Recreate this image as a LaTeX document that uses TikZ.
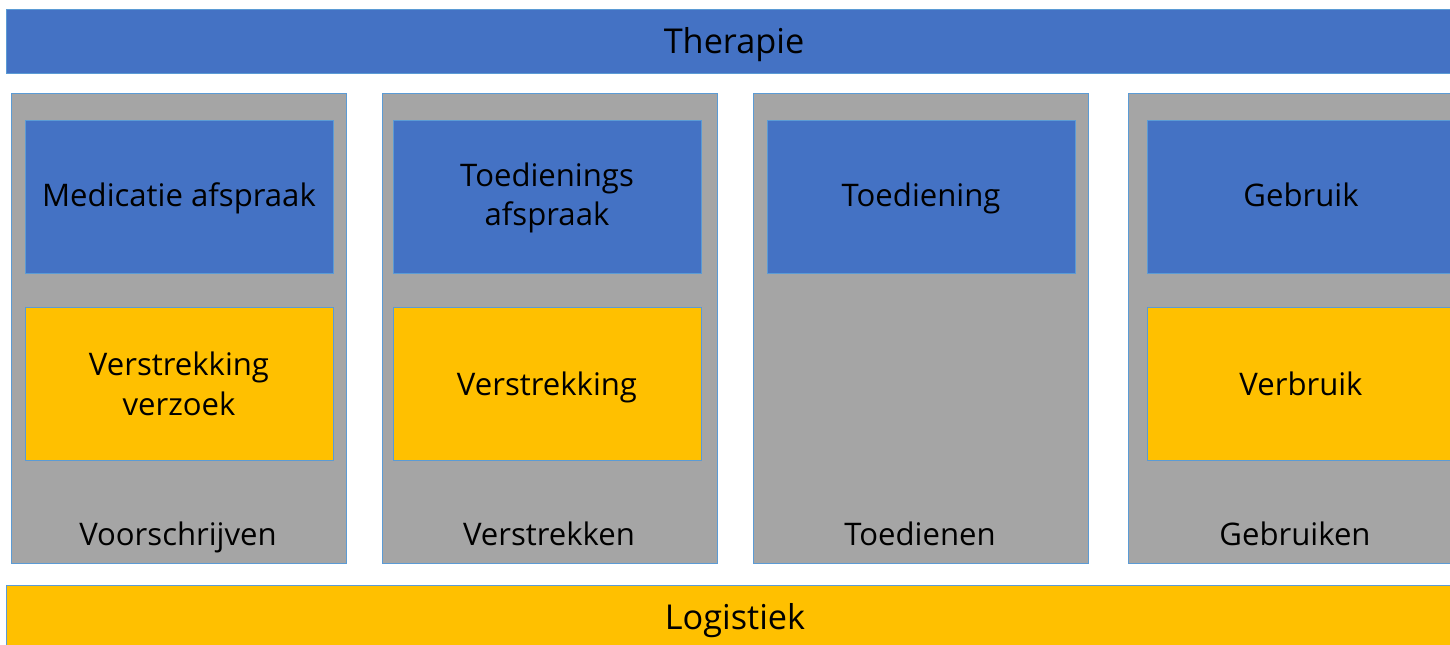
\documentclass[tikz,border=0pt]{standalone}
\usepackage{fontspec}
\setmainfont{Open Sans}
\definecolor{therapieblauw}{HTML}{4472C4}
\definecolor{stapgrijs}{HTML}{A5A5A5}
\definecolor{logistiekgeel}{HTML}{FFC000}
\definecolor{randblauw}{HTML}{5B9BD5}

\begin{document}
\begin{tikzpicture}[x=0.2mm, y=-0.2mm, blok/.style = {draw=randblauw, line width=0.5pt}, tekst/.style = {font=\fontsize{17.7}{22.4}\selectfont, align=center, text=black, inner sep=0pt, anchor=base}, laag/.style = {tekst, font=\fontsize{19.5}{24}\selectfont}]

    \useasboundingbox (0,0) rectangle (1450,645);
    \clip (0,0) rectangle (1450,645);

    % lagen
    \draw[blok, fill=therapieblauw] (6,9.5) rectangle (1464,73);
    \node[laag] (therapie) at (734,54) {Therapie};
    \draw[blok, fill=logistiekgeel] (6,585) rectangle (1464,655);
    \node[laag] (logistiek) at (735,629) {Logistiek};

    % voorschrijven
    \draw[blok, fill=stapgrijs] (11,93) rectangle (346,563);
    \draw[blok, fill=therapieblauw] (25,120) rectangle (333,273);
    \draw[blok, fill=logistiekgeel] (25,307) rectangle (333,460);
    \node[tekst] (ma) at (179,207) {Medicatie afspraak};
    \node[tekst] (vv) at (179,415) {Verstrekking\\verzoek};
    \node[tekst] (voorschrijven) at (178,545) {Voorschrijven};

    % verstrekken
    \draw[blok, fill=stapgrijs] (382,93) rectangle (717,563);
    \draw[blok, fill=therapieblauw] (393,120) rectangle (701,273);
    \draw[blok, fill=logistiekgeel] (393,307) rectangle (701,460);
    \node[tekst] (ta) at (547,226) {Toedienings\\afspraak};
    \node[tekst] (vs) at (547,395) {Verstrekking};
    \node[tekst] (verstrekken) at (549,545) {Verstrekken};

    % toedienen
    \draw[blok, fill=stapgrijs] (753,93) rectangle (1088,563);
    \draw[blok, fill=therapieblauw] (767,120) rectangle (1075,273);
    \node[tekst] (td) at (921,207) {Toediening};
    \node[tekst] (toedienen) at (920,545) {Toedienen};

    % gebruiken
    \draw[blok, fill=stapgrijs] (1128,93) rectangle (1463,563);
    \draw[blok, fill=therapieblauw] (1147,120) rectangle (1455,273);
    \draw[blok, fill=logistiekgeel] (1147,307) rectangle (1455,460);
    \node[tekst] (gb) at (1301,207) {Gebruik};
    \node[tekst] (vb) at (1301,395) {Verbruik};
    \node[tekst] (gebruiken) at (1295,545) {Gebruiken};

\end{tikzpicture}
\end{document}
